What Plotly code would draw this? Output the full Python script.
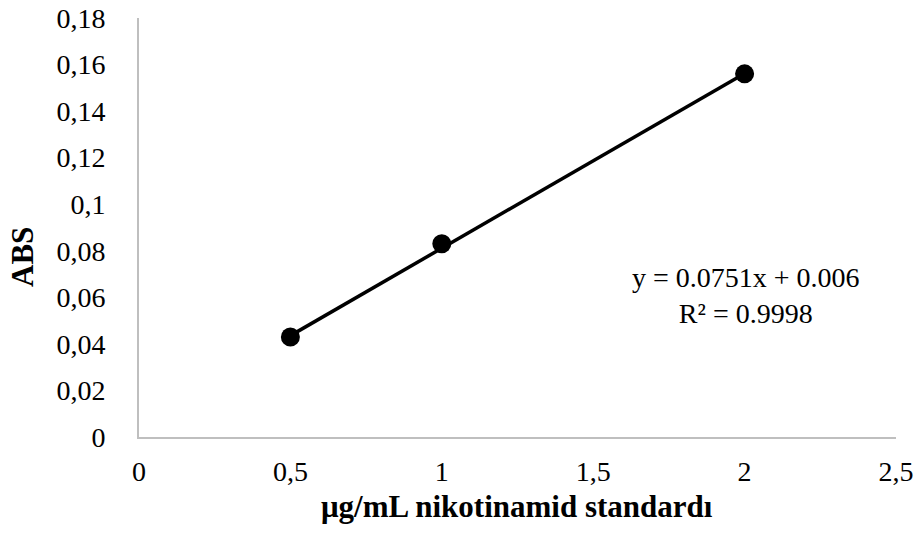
import plotly.graph_objects as go

# Calibration standard: concentration (µg/mL) vs absorbance
conc = [0.5, 1.0, 2.0]
absorbance = [0.043, 0.083, 0.156]

# Linear trendline parameters
slope = 0.0751
intercept = 0.006
r_squared = 0.9998

x_ticks = [0, 0.5, 1, 1.5, 2, 2.5]
x_tick_labels = ["0", "0,5", "1", "1,5", "2", "2,5"]
y_ticks = [0, 0.02, 0.04, 0.06, 0.08, 0.1, 0.12, 0.14, 0.16, 0.18]
y_tick_labels = ["0", "0,02", "0,04", "0,06", "0,08", "0,1", "0,12", "0,14", "0,16", "0,18"]

FONT = "Liberation Serif, Times New Roman, serif"

trend_x = [min(conc), max(conc)]
trend_y = [slope * x + intercept for x in trend_x]

# Plot area in pixels
W, H = 917, 539
plot_l, plot_r, plot_t, plot_b = 139, 896, 18, 437
pw, ph = plot_r - plot_l, plot_b - plot_t


def px_x(px):
    return (px - plot_l) / pw


def px_y(py):
    return (plot_b - py) / ph


fig = go.Figure()
fig.add_trace(go.Scatter(
    x=trend_x, y=trend_y, mode="lines",
    line=dict(color="black", width=3.5),
    hoverinfo="skip", showlegend=False,
))
fig.add_trace(go.Scatter(
    x=conc, y=absorbance, mode="markers",
    marker=dict(color="black", size=19),
    showlegend=False,
))

fig.update_layout(
    width=W, height=H,
    margin=dict(l=plot_l, r=W - plot_r, t=plot_t, b=H - plot_b, autoexpand=False),
    paper_bgcolor="white", plot_bgcolor="white",
    font=dict(family=FONT, size=28, color="black"),
    xaxis=dict(
        range=[0, 2.5], tickvals=x_ticks, ticktext=x_tick_labels,
        showgrid=False, zeroline=False, showline=True,
        linecolor="#bfbfbf", linewidth=2, ticks="",
        ticklabelstandoff=8, automargin=False,
        tickfont=dict(family=FONT, size=28),
    ),
    yaxis=dict(
        range=[0, 0.18], tickvals=y_ticks, ticktext=y_tick_labels,
        showgrid=False, zeroline=False, showline=True,
        linecolor="#bfbfbf", linewidth=2, ticks="",
        ticklabelstandoff=26, automargin=False,
        tickfont=dict(family=FONT, size=28),
    ),
    annotations=[
        dict(
            text="<b>μg/mL nikotinamid standardı</b>",
            x=px_x(517), xref="paper", y=px_y(506), yref="paper",
            xanchor="center", yanchor="middle", showarrow=False,
            font=dict(family=FONT, size=31),
        ),
        dict(
            text="<b>ABS</b>",
            x=px_x(22), xref="paper", y=px_y(257), yref="paper",
            xanchor="center", yanchor="middle",
            showarrow=False, textangle=-90,
            font=dict(family=FONT, size=31),
        ),
        dict(
            text=f"y = {slope}x + {intercept}<br>R² = {r_squared}",
            x=px_x(746), xref="paper", y=px_y(295), yref="paper",
            showarrow=False,
            xanchor="center", yanchor="middle", align="center",
            font=dict(family=FONT, size=28),
        ),
    ],
)

fig.write_html("out.html")
